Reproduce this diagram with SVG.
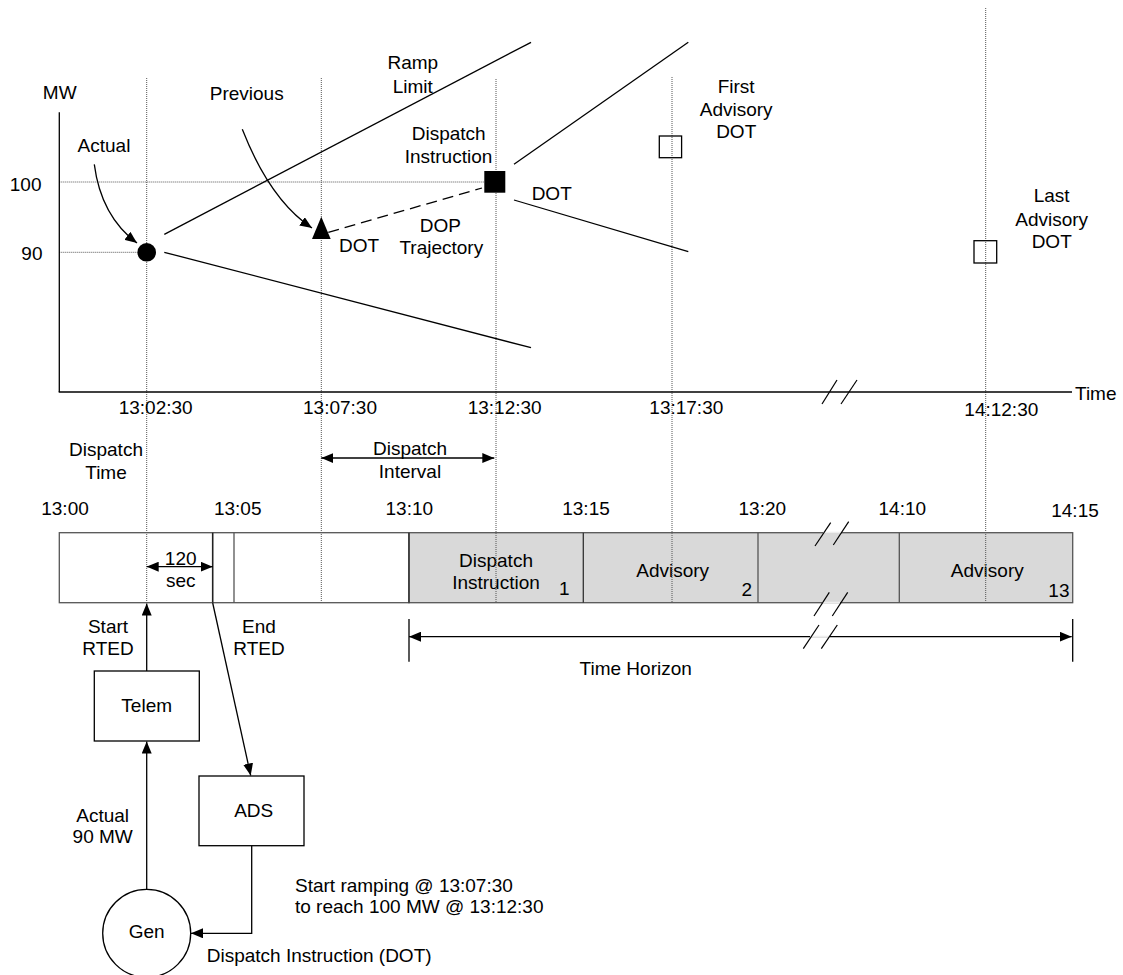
<svg xmlns="http://www.w3.org/2000/svg" width="1123" height="975" viewBox="0 0 1123 975">
<defs>
<marker id="ah" viewBox="0 0 12 10" refX="12" refY="5" markerWidth="12" markerHeight="10" markerUnits="userSpaceOnUse" orient="auto-start-reverse"><path d="M0,0 L12,5 L0,10 z" fill="#000"/></marker>
</defs>
<style>
text{font-family:"Liberation Sans",Arial,sans-serif;font-size:19px;fill:#000}
.c{text-anchor:middle}
.e{text-anchor:end}
.ln{stroke:#000;stroke-width:1.3;fill:none}
.dot{stroke:#555;stroke-width:1;stroke-dasharray:1 1;fill:none}
.box{fill:#fff;stroke:#000;stroke-width:1.3}
.bar{stroke:#555;stroke-width:1.3}
.brk{stroke:#000;stroke-width:1.2;fill:none}
</style>
<rect width="1123" height="975" fill="#fff"/>

<g id="timeline-bar">
<rect x="59.3" y="532.7" width="349.7" height="70" fill="#fff" class="bar"/>
<rect x="409" y="532.7" width="663.7" height="70" fill="#d9d9d9" class="bar"/>
<line x1="212.7" y1="532.7" x2="212.7" y2="602.7" stroke="#222" stroke-width="1.6"/>
<line x1="234" y1="532.7" x2="234" y2="602.7" class="bar"/>
<line x1="409" y1="532.7" x2="409" y2="602.7" stroke="#333" stroke-width="1.4"/>
<line x1="583.3" y1="532.7" x2="583.3" y2="602.7" stroke="#333" stroke-width="1.3"/>
<line x1="758" y1="532.7" x2="758" y2="602.7" class="bar"/>
<line x1="899.3" y1="532.7" x2="899.3" y2="602.7" class="bar"/>
<line x1="823" y1="532.7" x2="841" y2="532.7" stroke="#eee" stroke-width="2"/>
<line x1="822" y1="602.7" x2="840" y2="602.7" stroke="#eee" stroke-width="2"/>
<line x1="815" y1="546" x2="830.7" y2="522.7" class="brk"/>
<line x1="833.3" y1="545" x2="848.7" y2="521.7" class="brk"/>
<line x1="814" y1="616" x2="829.3" y2="592.3" class="brk"/>
<line x1="832.3" y1="616" x2="847.7" y2="592.3" class="brk"/>
<text x="496" y="566.7" class="c">Dispatch</text>
<text x="496" y="589" class="c">Instruction</text>
<text x="569.5" y="595" class="e">1</text>
<text x="672.7" y="577.3" class="c">Advisory</text>
<text x="752" y="596" class="e">2</text>
<text x="987.3" y="577.3" class="c">Advisory</text>
<text x="1069.5" y="597" class="e">13</text>
</g>

<g id="gridlines">
<line x1="146.7" y1="78" x2="146.7" y2="602.7" class="dot"/>
<line x1="321.3" y1="78" x2="321.3" y2="602.7" class="dot"/>
<line x1="496" y1="79" x2="496" y2="602.7" class="dot"/>
<line x1="672" y1="77" x2="672" y2="602.7" class="dot"/>
<line x1="985.7" y1="8" x2="985.7" y2="602.7" class="dot"/>
<line x1="59.3" y1="182" x2="484" y2="182" class="dot"/>
<line x1="59.3" y1="252.3" x2="137.5" y2="252.3" class="dot"/>
</g>

<g id="axes">
<line x1="59.3" y1="112.3" x2="59.3" y2="392" class="ln"/>
<line x1="58.7" y1="392" x2="1072" y2="392" class="ln"/>
<line x1="822" y1="404" x2="837" y2="380" class="brk"/>
<line x1="841" y1="404" x2="857" y2="380" class="brk"/>
<text x="59.7" y="99.3" class="c">MW</text>
<text x="41.5" y="190.7" class="e">100</text>
<text x="42.5" y="260" class="e">90</text>
<text x="1075" y="400">Time</text>
<text x="155.7" y="413.5" class="c">13:02:30</text>
<text x="340" y="413.5" class="c">13:07:30</text>
<text x="504.7" y="413.5" class="c">13:12:30</text>
<text x="686.3" y="413.5" class="c">13:17:30</text>
<text x="1001.3" y="415.5" class="c">14:12:30</text>
</g>

<g id="ramp-limits">
<line x1="164.3" y1="234.3" x2="531" y2="42.3" class="ln"/>
<line x1="164.3" y1="252.3" x2="531" y2="347.7" class="ln"/>
<line x1="514" y1="164.3" x2="688.3" y2="42.3" class="ln"/>
<line x1="514" y1="200" x2="688.3" y2="251.7" class="ln"/>
<text x="412.8" y="69.3" class="c">Ramp</text>
<text x="412.7" y="93.3" class="c">Limit</text>
</g>

<g id="actual-point">
<circle cx="146.7" cy="252.3" r="9.3" fill="#000"/>
<text x="104" y="151.7" class="c">Actual</text>
</g>

<g id="previous-dot">
<path d="M321.3,216.7 L330.7,239 L312,239 z" fill="#000"/>
<text x="246.7" y="100" class="c">Previous</text>
<text x="339" y="252.3">DOT</text>
</g>

<g id="dispatch-instruction-dot">
<rect x="484.3" y="171" width="21" height="21.7" fill="#000"/>
<text x="448.7" y="140" class="c">Dispatch</text>
<text x="448.5" y="162.7" class="c">Instruction</text>
<text x="551.7" y="200" class="c">DOT</text>
</g>

<g id="dop-trajectory">
<text x="440.3" y="232.3" class="c">DOP</text>
<text x="441.3" y="254" class="c">Trajectory</text>
</g>

<g id="first-advisory">
<rect x="659.3" y="136" width="22.3" height="21.7" fill="none" stroke="#000" stroke-width="1.3"/>
<text x="736.2" y="93.3" class="c">First</text>
<text x="736.2" y="116" class="c">Advisory</text>
<text x="736.2" y="138.3" class="c">DOT</text>
</g>

<g id="last-advisory">
<rect x="974" y="240.7" width="22.7" height="22.3" fill="none" stroke="#000" stroke-width="1.3"/>
<text x="1051.7" y="201.7" class="c">Last</text>
<text x="1051.7" y="226" class="c">Advisory</text>
<text x="1051.7" y="248.3" class="c">DOT</text>
</g>

<g id="timeline-labels">
<text x="106" y="456" class="c">Dispatch</text>
<text x="106" y="478.7" class="c">Time</text>
<text x="410" y="455" class="c">Dispatch</text>
<text x="410" y="477.7" class="c">Interval</text>
<text x="65" y="514.5" class="c">13:00</text>
<text x="237.7" y="514.5" class="c">13:05</text>
<text x="409.3" y="515" class="c">13:10</text>
<text x="586" y="515" class="c">13:15</text>
<text x="762.3" y="514.5" class="c">13:20</text>
<text x="902.3" y="515" class="c">14:10</text>
<text x="1075" y="516.5" class="c">14:15</text>
<text x="180.7" y="565" class="c">120</text>
<text x="180.7" y="586.7" class="c">sec</text>
<text x="108" y="632.7" class="c">Start</text>
<text x="108" y="655" class="c">RTED</text>
<text x="259" y="632.7" class="c">End</text>
<text x="259" y="655" class="c">RTED</text>
<text x="635.7" y="675" class="c">Time Horizon</text>
</g>

<g id="telem">
<rect x="94.3" y="671" width="105" height="70" class="box"/>
<text x="146.7" y="711.7" class="c">Telem</text>
</g>

<g id="ads">
<rect x="199" y="776" width="105" height="69.7" class="box"/>
<text x="253.7" y="816.7" class="c">ADS</text>
</g>

<g id="gen">
<circle cx="146.7" cy="933.3" r="44" class="box"/>
<text x="146.7" y="938.3" class="c">Gen</text>
</g>

<g id="flow-labels">
<text x="102.7" y="821.7" class="c">Actual</text>
<text x="102.7" y="843.3" class="c">90 MW</text>
<text x="295" y="891.7">Start ramping @ 13:07:30</text>
<text x="295" y="913.3">to reach 100 MW @ 13:12:30</text>
<text x="206.7" y="961.7">Dispatch Instruction (DOT)</text>
</g>

<g id="connectors">
<path d="M94.3,164.3 Q101,216 137,243" class="ln" marker-end="url(#ah)"/>
<path d="M242.3,129.3 Q270,200 312,228" class="ln" marker-end="url(#ah)"/>
<line x1="328.3" y1="232.3" x2="482" y2="188" stroke="#000" stroke-width="1.3" stroke-dasharray="11 6"/>
<line x1="321.3" y1="458" x2="494.3" y2="458" class="ln" marker-start="url(#ah)" marker-end="url(#ah)"/>
<line x1="146.7" y1="566.7" x2="212.7" y2="566.7" class="ln" marker-start="url(#ah)" marker-end="url(#ah)"/>
<line x1="409" y1="636.7" x2="1071.7" y2="636.7" class="ln" marker-start="url(#ah)" marker-end="url(#ah)"/>
<line x1="810" y1="636.7" x2="830" y2="636.7" stroke="#eee" stroke-width="2"/>
<line x1="803.3" y1="648.7" x2="819" y2="625" class="brk"/>
<line x1="821.3" y1="648.7" x2="837.3" y2="625" class="brk"/>
<line x1="409" y1="619" x2="409" y2="661.7" class="ln"/>
<line x1="1072.7" y1="619" x2="1072.7" y2="661.7" class="ln"/>
<line x1="146.7" y1="671" x2="146.7" y2="603.5" class="ln" marker-end="url(#ah)"/>
<line x1="212.7" y1="603" x2="250.7" y2="775.5" class="ln" marker-end="url(#ah)"/>
<line x1="146.7" y1="889.3" x2="146.7" y2="741.5" class="ln" marker-end="url(#ah)"/>
<polyline points="251.7,845.7 251.7,933.3 191,933.3" class="ln" marker-end="url(#ah)"/>
</g>
</svg>
